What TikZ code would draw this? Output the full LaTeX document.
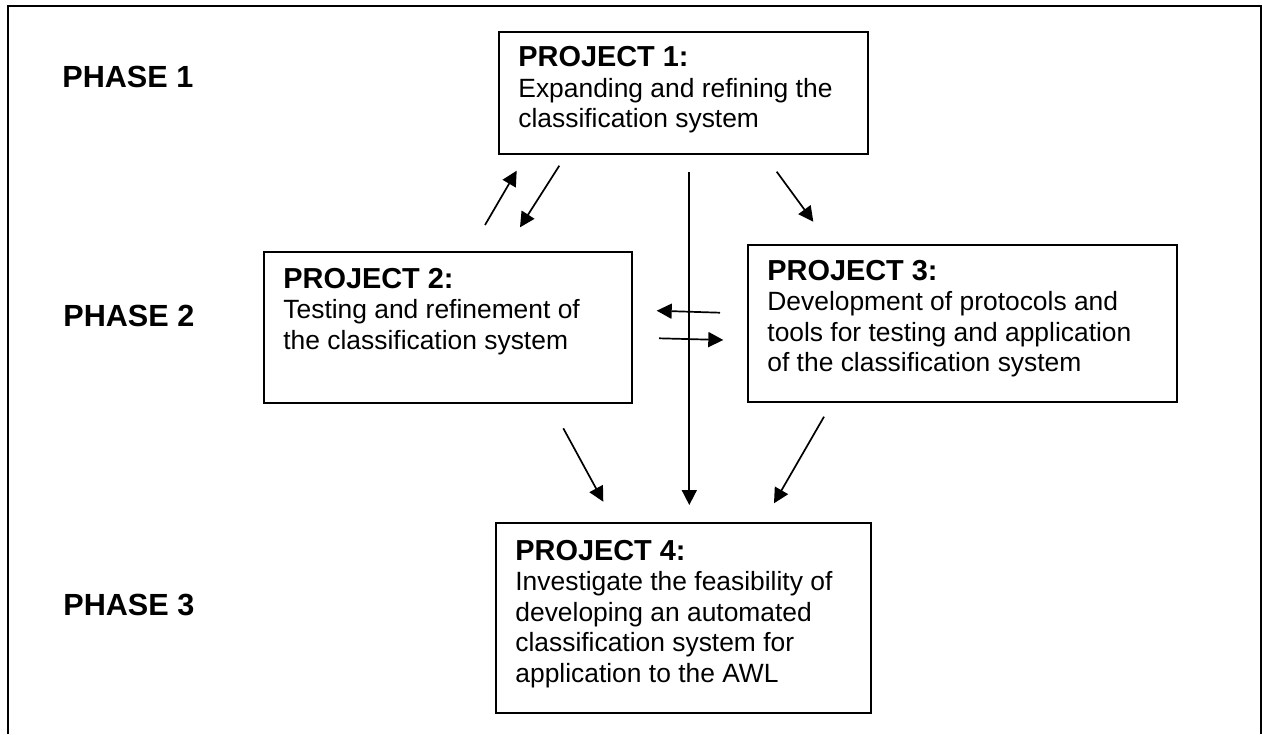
\documentclass[tikz,border=0pt]{standalone}
\usepackage{fontspec}
\setmainfont{Liberation Sans}
\usetikzlibrary{arrows.meta}

% Title line in bold, description lines in regular weight, all on one baseline grid
\newcommand\projtext[2]{\parbox[t]{230pt}{\raggedright
  \fontsize{14.45}{15.3}\selectfont\bfseries #1\\
  \fontsize{13.2}{15.3}\selectfont\mdseries #2}}

\begin{document}
\begin{tikzpicture}[x=0.5pt,y=-0.5pt,
  box/.style={draw, line width=0.75pt, inner sep=0pt, anchor=north west},
  phase/.style={anchor=base west, inner sep=0pt,
    font=\fontsize{15.3}{18}\selectfont\bfseries},
  txt/.style={anchor=base west, inner sep=0pt},
  link/.style={line width=0.85pt, -{Triangle[length=7.5pt,width=7.5pt]}}]

\useasboundingbox (0,0) rectangle (1262,734);

% outer frame (open at the bottom)
\draw[line width=1pt] (7.5,734) -- (7.5,6) -- (1260.5,6) -- (1260.5,734);

% phase labels
\node[phase] (ph1) at (62,87)    {PHASE 1};
\node[phase] (ph2) at (63,326.7) {PHASE 2};
\node[phase] (ph3) at (63,615)   {PHASE 3};

% project boxes
\node[box, minimum width=184.5pt, minimum height=61pt]   (p1) at (498,31)  {};
\node[box, minimum width=184pt,   minimum height=75.5pt] (p2) at (263,251) {};
\node[box, minimum width=214.5pt, minimum height=78.5pt] (p3) at (747,244) {};
\node[box, minimum width=187.5pt, minimum height=95pt]   (p4) at (495,522) {};

% project texts
\node[txt] (t1) at (518,66.7) {\projtext{PROJECT 1:}{Expanding and refining the\\ classification system}};
\node[txt] (t2) at (283,288)  {\projtext{PROJECT 2:}{Testing and refinement of\\ the classification system}};
\node[txt] (t3) at (767,280)  {\projtext{PROJECT 3:}{Development of protocols and\\ tools for testing and application\\ of the classification system}};
\node[txt] (t4) at (515,560)  {\projtext{PROJECT 4:}{Investigate the feasibility of\\ developing an automated\\ classification system for\\ application to the AWL}};

% free-floating arrow end points
\coordinate (a1s) at (485,225);     \coordinate (a1e) at (516.7,170.7);
\coordinate (a2s) at (559.3,165.7); \coordinate (a2e) at (520,227.3);
\coordinate (a3s) at (689.3,171.7); \coordinate (a3e) at (689.3,505);
\coordinate (a4s) at (776.7,171.7); \coordinate (a4e) at (813.3,221.7);
\coordinate (a5s) at (720,312.7);   \coordinate (a5e) at (656.7,310.7);
\coordinate (a6s) at (659,338.3);   \coordinate (a6e) at (723.3,340);
\coordinate (a7s) at (563.3,428.3); \coordinate (a7e) at (603.3,501.7);
\coordinate (a8s) at (824,416.7);   \coordinate (a8e) at (774,503.3);

% arrows
\draw[link] (a1s) -- (a1e);
\draw[link] (a2s) -- (a2e);
\draw[link] (a3s) -- (a3e);
\draw[link] (a4s) -- (a4e);
\draw[link] (a5s) -- (a5e);
\draw[link] (a6s) -- (a6e);
\draw[link] (a7s) -- (a7e);
\draw[link] (a8s) -- (a8e);
\end{tikzpicture}
\end{document}
